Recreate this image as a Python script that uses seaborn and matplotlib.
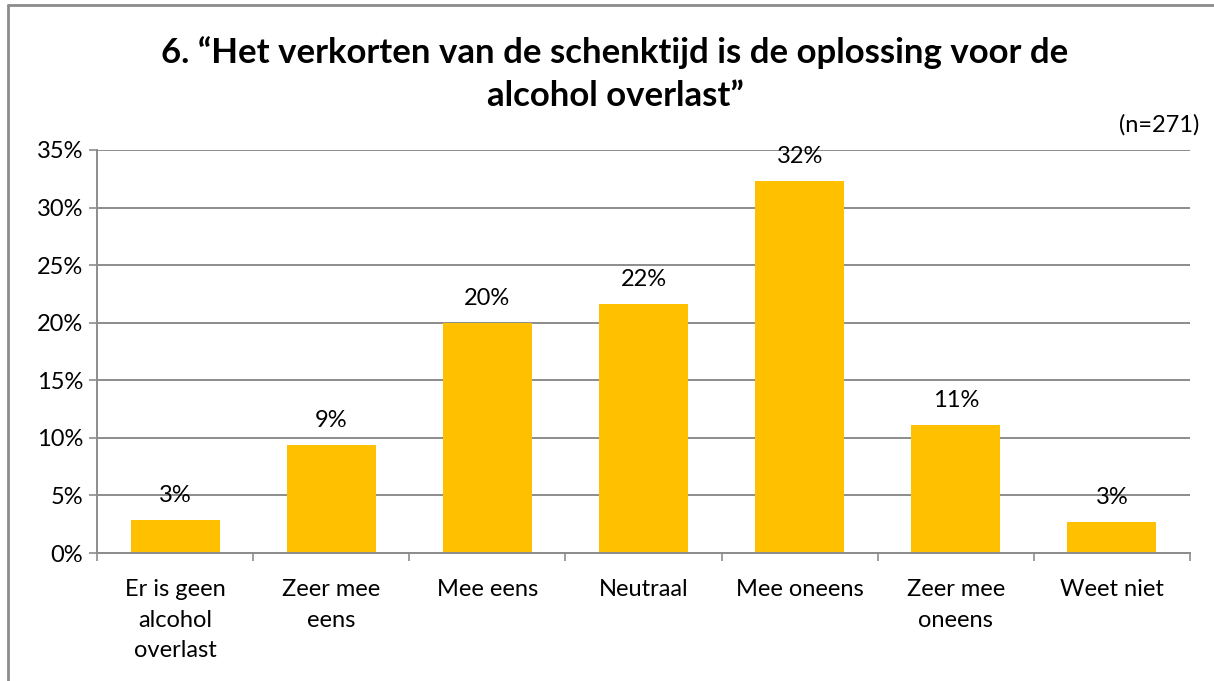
import matplotlib
matplotlib.use("Agg")
import matplotlib.pyplot as plt
import seaborn as sns
import pandas as pd
from matplotlib.ticker import PercentFormatter, FixedLocator
from matplotlib.lines import Line2D

categories = ["Er is geen\nalcohol\noverlast", "Zeer mee\neens", "Mee eens", "Neutraal",
              "Mee oneens", "Zeer mee\noneens", "Weet niet"]
values = [0.029, 0.094, 0.200, 0.216, 0.323, 0.111, 0.027]
title_lines = ["6. \u201cHet verkorten van de schenktijd is de oplossing voor de",
               "alcohol overlast\u201d"]
note = "(n=271)"

sns.set_theme(style="white")
plt.rcParams['font.family'] = ['Lato', 'DejaVu Sans']

W, H = 1214, 681
fig = plt.figure(figsize=(W / 100, H / 100), dpi=100)
ax = fig.add_axes([97 / W, 1 - 553 / H, (1190 - 97) / W, (553 - 150) / H])

df = pd.DataFrame({"cat": categories, "val": values})
sns.barplot(data=df, x="cat", y="val", color="#FFC000", width=0.57, ax=ax,
            saturation=1, edgecolor="none")

ax.set_ylim(0, 0.35)
ax.set_xlim(-0.5, len(categories) - 0.5)
ax.yaxis.set_major_locator(FixedLocator([i * 0.05 for i in range(8)]))
ax.yaxis.set_major_formatter(PercentFormatter(1.0, decimals=0))
ax.set_xlabel("")
ax.set_ylabel("")

grid_c = "#8c8c8c"
ax.grid(axis="y", color=grid_c, linewidth=1.4)
ax.set_axisbelow(True)
for s in ["top", "right"]:
    ax.spines[s].set_visible(False)
for s in ["left", "bottom"]:
    ax.spines[s].set_color(grid_c)
    ax.spines[s].set_linewidth(1.4)

fs = 17
ax.tick_params(axis="y", which="major", length=6, width=1.2, color=grid_c,
               labelsize=fs, labelcolor="black", pad=4, left=True, direction="out")
ax.set_xticks(range(len(categories)))
ax.set_xticklabels(categories, linespacing=1.55)
ax.tick_params(axis="x", which="major", length=0, labelsize=fs, labelcolor="black", pad=19)
ax.set_xticks([i - 0.5 for i in range(len(categories) + 1)], minor=True)
ax.tick_params(axis="x", which="minor", length=6, width=1.2, color=grid_c,
               bottom=True, direction="out")
for lab in ax.get_xticklabels():
    lab.set_verticalalignment("top")

ax.bar_label(ax.containers[0], labels=[f"{v * 100:.0f}%" for v in values],
             padding=10, fontsize=fs, color="black")

fig.text(615 / W, 1 - 53 / H, title_lines[0], ha="center", va="center",
         fontsize=25, fontweight="bold", color="black")
fig.text(615 / W, 1 - 96 / H, title_lines[1], ha="center", va="center",
         fontsize=25, fontweight="bold", color="black")
fig.text(1199 / W, 1 - 125 / H, note, ha="right", va="center", fontsize=fs, color="black")

# figure border (top and left visible, right/bottom clipped)
fig.add_artist(Line2D([8 / W, 8 / W], [0, 1 - 5 / H], transform=fig.transFigure,
                      color="#8c8c8c", linewidth=2))
fig.add_artist(Line2D([8 / W, 1], [1 - 5 / H, 1 - 5 / H], transform=fig.transFigure,
                      color="#8c8c8c", linewidth=2))

fig.savefig("out.png", dpi=100, facecolor="white")
